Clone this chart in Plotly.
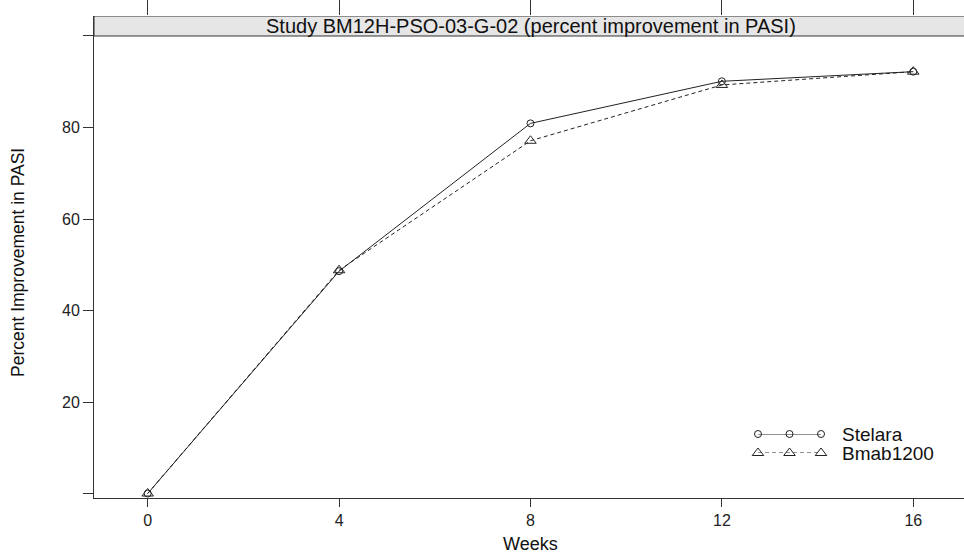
import plotly.graph_objects as go

weeks = [0, 4, 8, 12, 16]
stelara = [0.0, 48.6, 80.9, 90.1, 92.2]
bmab1200 = [0.0, 48.8, 77.1, 89.3, 92.2]
series_names = ["Stelara", "Bmab1200"]
x_ticks = [0, 4, 8, 12, 16]
y_ticks = [0, 20, 40, 60, 80, 100]
y_tick_text = ["", "20", "40", "60", "80", ""]
title_text = "Study BM12H-PSO-03-G-02 (percent improvement in PASI)"
x_title = "Weeks"
y_title = "Percent Improvement in PASI"

FONT = "Liberation Sans, Arial, sans-serif"
INK = "#333333"
W, H = 964, 554
ML, MR, MT, MB = 94, 0, 16, 56
PW, PH = W - ML - MR, H - MT - MB

X_RANGE = [-1.122, 17.06]
Y_RANGE = [-0.98, 104.37]


def px_x(px):
    return (px - ML) / PW


def px_y(py):
    return (H - MB - py) / PH


fig = go.Figure()

fig.add_trace(go.Scatter(
    x=weeks, y=stelara, mode="lines+markers", name=series_names[0],
    line=dict(color="#222222", width=1),
    marker=dict(symbol="circle-open", size=7, color="#222222", line=dict(width=1)),
    showlegend=False, cliponaxis=False))
fig.add_trace(go.Scatter(
    x=weeks, y=bmab1200, mode="lines+markers", name=series_names[1],
    line=dict(color="#222222", width=1, dash="4px,3px"),
    marker=dict(symbol="triangle-up-open", size=10, color="#222222", line=dict(width=1)),
    showlegend=False, cliponaxis=False))

# invisible trace for top tick axis
fig.add_trace(go.Scatter(x=weeks, y=stelara, xaxis="x2", mode="markers",
                         marker=dict(opacity=0), hoverinfo="skip", showlegend=False))

# custom legend keys (three symbols per key, as in lattice)
key_x = [0, 0.5, 1]
fig.add_trace(go.Scatter(
    x=key_x, y=[1, 1, 1], xaxis="x3", yaxis="y3", mode="lines+markers",
    line=dict(color="#222222", width=1),
    marker=dict(symbol="circle-open", size=7, color="#222222", line=dict(width=1)),
    showlegend=False, cliponaxis=False, hoverinfo="skip"))
fig.add_trace(go.Scatter(
    x=key_x, y=[0, 0, 0], xaxis="x3", yaxis="y3", mode="lines+markers",
    line=dict(color="#222222", width=1, dash="4px,3px"),
    marker=dict(symbol="triangle-up-open", size=10, color="#222222", line=dict(width=1)),
    showlegend=False, cliponaxis=False, hoverinfo="skip"))

fig.update_layout(
    template="none",
    width=W, height=H,
    margin=dict(l=ML, r=MR, t=MT, b=MB, pad=0, autoexpand=False),
    paper_bgcolor="white", plot_bgcolor="white",
    font=dict(family=FONT, color="#222222"),
    xaxis=dict(range=X_RANGE, tickvals=x_ticks, ticktext=[str(v) for v in x_ticks],
               automargin=False,
               showgrid=False, zeroline=False, showline=True, linecolor=INK, linewidth=1,
               ticks="outside", ticklen=8, tickcolor=INK, tickwidth=1,
               tickfont=dict(size=16, family=FONT, color="#222222")),
    xaxis2=dict(range=X_RANGE, overlaying="x", side="top", anchor="y", matches="x",
                automargin=False,
                tickvals=x_ticks, showticklabels=False, showgrid=False, zeroline=False,
                showline=False, ticks="outside", ticklen=16, tickcolor=INK, tickwidth=1),
    yaxis=dict(range=Y_RANGE, tickvals=y_ticks, ticktext=y_tick_text,
               automargin=False,
               showgrid=False, zeroline=False, showline=True, linecolor=INK, linewidth=1,
               ticks="outside", ticklen=10, tickcolor=INK, tickwidth=1,
               tickfont=dict(size=16, family=FONT, color="#222222")),
    xaxis3=dict(domain=[px_x(758), px_x(821)], range=[0, 1], anchor="y3",
                visible=False, fixedrange=True, automargin=False),
    yaxis3=dict(domain=[px_y(453), px_y(434)], range=[0, 1], anchor="x3",
                visible=False, fixedrange=True, automargin=False),
    showlegend=False,
)

# strip (panel title) above the data region
fig.add_shape(type="rect", xref="paper", yref="y", x0=0, x1=1.01,
              y0=100, y1=Y_RANGE[1], fillcolor="#e6e6e6",
              line=dict(color=INK, width=1), layer="below")

fig.add_annotation(text=title_text, xref="paper", yref="paper",
                   x=px_x(531), y=px_y(26), xanchor="center", yanchor="middle",
                   showarrow=False, font=dict(size=20, family=FONT, color="#111111"))

fig.add_annotation(text=x_title, xref="paper", yref="paper",
                   x=px_x(530), y=px_y(544), xanchor="center", yanchor="middle",
                   showarrow=False, font=dict(size=18, family=FONT, color="#111111"))

fig.add_annotation(text=y_title, xref="paper", yref="paper", textangle=-90,
                   x=px_x(18), y=px_y(263), xanchor="center", yanchor="middle",
                   showarrow=False, font=dict(size=17.5, family=FONT, color="#111111"))

for name, py in zip(series_names, [434, 453]):
    fig.add_annotation(text=name, xref="paper", yref="paper",
                       x=px_x(841), y=px_y(py), xanchor="left", yanchor="middle",
                       height=18, borderpad=0, valign="middle",
                       showarrow=False, font=dict(size=19, family=FONT, color="#111111"))

fig.write_html("out.html", config={"displayModeBar": False},
               post_script="document.body.style.margin='0';document.body.style.overflow='hidden';")
